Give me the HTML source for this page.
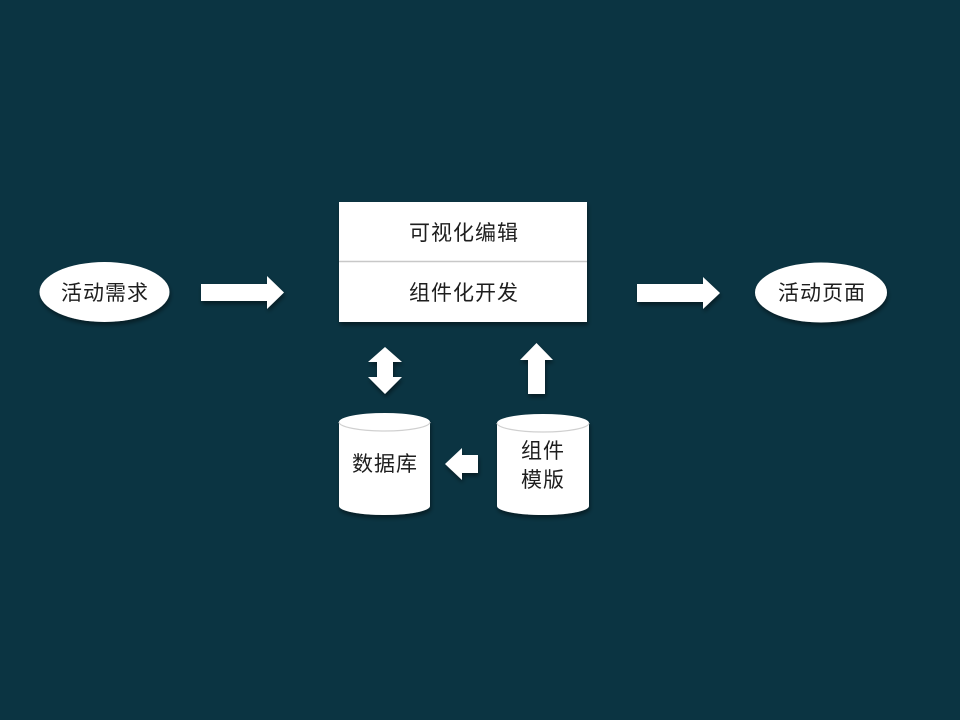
<!DOCTYPE html>
<html><head><meta charset="utf-8"><style>
html,body{margin:0;padding:0;background:#0b3442;}
svg{display:block;}
text{font-family:"Liberation Sans","Noto Sans CJK SC",sans-serif;fill:#1e1e1e;font-size:21px;letter-spacing:1px;}
</style></head><body>
<svg width="960" height="720" viewBox="0 0 960 720" xmlns="http://www.w3.org/2000/svg">
<defs>
<filter id="sh" x="-20%" y="-20%" width="140%" height="150%">
<feDropShadow dx="1" dy="3" stdDeviation="2" flood-color="#000" flood-opacity="0.45"/>
</filter>
</defs>
<rect width="960" height="720" fill="#0b3442"/>

<!-- left ellipse -->
<ellipse cx="104.5" cy="292" rx="65" ry="30" fill="#fff" filter="url(#sh)"/>
<text x="105" y="300" text-anchor="middle">活动需求</text>

<!-- left arrow -->
<polygon points="201,284 267,284 267,276 284,292.5 267,309 267,301 201,301" fill="#fff" filter="url(#sh)"/>

<!-- central box -->
<rect x="339" y="202" width="248" height="120" fill="#fff" filter="url(#sh)"/>
<line x1="339" y1="261.5" x2="587" y2="261.5" stroke="#c8c8c8" stroke-width="1.5"/>
<text x="464" y="240" text-anchor="middle">可视化编辑</text>
<text x="464" y="300" text-anchor="middle">组件化开发</text>

<!-- right arrow -->
<polygon points="637,284 703,284 703,277 720,293 703,309 703,302 637,302" fill="#fff" filter="url(#sh)"/>

<!-- right ellipse -->
<ellipse cx="821" cy="292.5" rx="66" ry="30" fill="#fff" filter="url(#sh)"/>
<text x="822" y="300" text-anchor="middle">活动页面</text>

<!-- double arrow -->
<polygon points="385,347 402,362 393,362 393,377 402,377 385,394 368,377 377,377 377,362 368,362" fill="#fff" filter="url(#sh)"/>

<!-- up arrow -->
<polygon points="536.5,343 553,360 545,360 545,394 528,394 528,360 520,360" fill="#fff" filter="url(#sh)"/>

<!-- database cylinder -->
<g filter="url(#sh)">
<path d="M339,422 A45.5,9 0 0 1 430,422 L430,506 A45.5,9 0 0 1 339,506 Z" fill="#fff"/>
</g>
<path d="M339,422 A45.5,9 0 0 0 430,422" fill="none" stroke="#d0d0d0" stroke-width="1.2"/>
<text x="385" y="471" text-anchor="middle">数据库</text>

<!-- left-pointing arrow -->
<polygon points="445,464 462,448 462,455 478,455 478,473 462,473 462,480" fill="#fff" filter="url(#sh)"/>

<!-- template cylinder -->
<g filter="url(#sh)">
<path d="M497,423 A46,9 0 0 1 589,423 L589,506 A46,9 0 0 1 497,506 Z" fill="#fff"/>
</g>
<path d="M497,423 A46,9 0 0 0 589,423" fill="none" stroke="#d0d0d0" stroke-width="1.2"/>
<text x="543" y="458" text-anchor="middle">组件</text>
<text x="543" y="487" text-anchor="middle">模版</text>
</svg>
</body></html>
